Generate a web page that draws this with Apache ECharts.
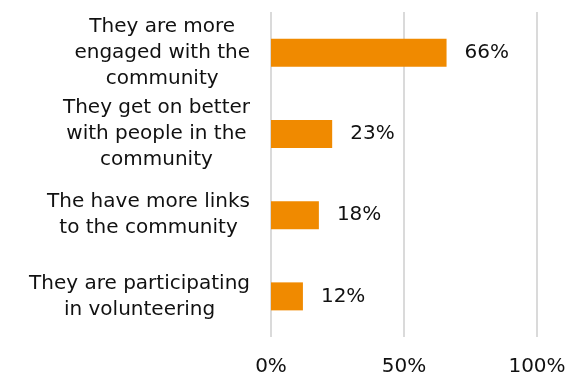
<!DOCTYPE html>
<html>
<head>
<meta charset="utf-8">
<script src="https://cdn.jsdelivr.net/npm/echarts@6/dist/echarts.min.js"></script>
<style>
  html, body { margin: 0; padding: 0; background: #ffffff; }
  #chart { width: 570px; height: 381px; }
</style>
</head>
<body>
<div id="chart"></div>
<script>
// Reported effects on young people's relationship with their community
const categories = [
  'They are more\nengaged with the\ncommunity',
  'They get on better\nwith people in the\ncommunity',
  'The have more links\nto the community',
  'They are participating\nin volunteering'
];
const values = [66, 23, 18, 12];
const xTicks = [0, 50, 100];

const FONT = 'DejaVu Sans';
const TEXT = '#111111';

const chart = echarts.init(document.getElementById('chart'), null, { renderer: 'canvas' });

chart.setOption({
  animation: false,
  backgroundColor: '#ffffff',
  grid: { left: 271, right: 33, top: 12, bottom: 44, containLabel: false },
  xAxis: {
    type: 'value',
    min: xTicks[0],
    max: xTicks[xTicks.length - 1],
    interval: xTicks[1] - xTicks[0],
    axisLine: { show: false },
    axisTick: { show: false },
    splitLine: { show: true, lineStyle: { color: '#dadada', width: 2 } },
    axisLabel: {
      margin: 20,
      color: TEXT,
      fontFamily: FONT,
      fontSize: 20,
      formatter: v => v + '%'
    }
  },
  yAxis: {
    type: 'category',
    inverse: true,
    data: categories,
    axisLine: { show: false },
    axisTick: { show: false },
    splitLine: { show: false },
    axisLabel: {
      margin: 21,
      align: 'right',
      color: TEXT,
      fontFamily: FONT,
      fontSize: 20,
      lineHeight: 26,
      // each line centred within the right-aligned label block
      formatter: v => v.split('\n').map(l => '{c|' + l + '}').join('\n'),
      rich: {
        c: {
          align: 'center',
          color: TEXT,
          fontFamily: FONT,
          fontSize: 20,
          lineHeight: 26
        }
      }
    }
  },
  series: [{
    type: 'bar',
    data: values,
    barWidth: 28,
    itemStyle: { color: '#f08a00' },
    label: {
      show: true,
      position: 'right',
      distance: 18,
      color: TEXT,
      fontFamily: FONT,
      fontSize: 20,
      formatter: p => p.value + '%'
    }
  }]
});
</script>
</body>
</html>
